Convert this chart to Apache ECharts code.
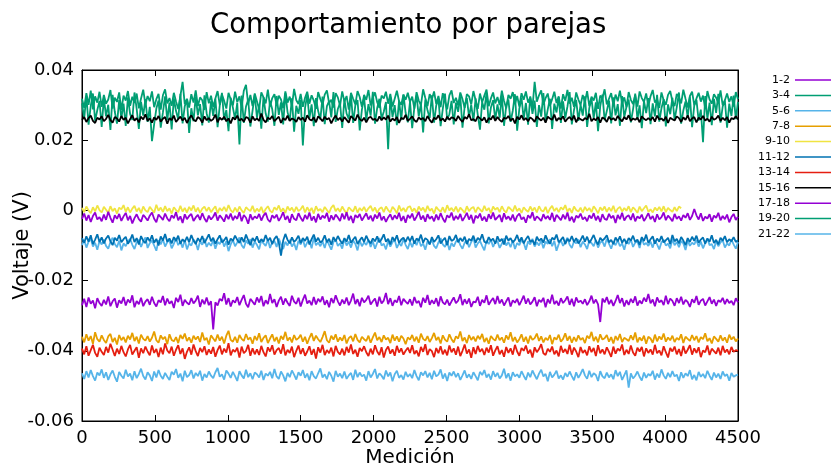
<!DOCTYPE html>
<html>
<head>
<meta charset="utf-8">
<title>Comportamiento por parejas</title>
<script src="https://cdn.jsdelivr.net/npm/echarts@6/dist/echarts.min.js"></script>
<style>
  html, body { margin: 0; padding: 0; background: #fff; }
  #chart { width: 832px; height: 471px; }
</style>
</head>
<body>
<div id="chart"></div>
<script>
// Lecturas de voltaje por pareja, en décimas de mV (1 = 0.0001 V),
// tomadas cada PASO mediciones.
const PASO = 15;
const ESCALA = 1e-4;

const nombres = ['1-2', '3-4', '5-6', '7-8', '9-10', '11-12', '13-14', '15-16', '17-18', '19-20', '21-22'];
const colores = ['#9400d3', '#009e73', '#56b4e9', '#e69f00', '#f0e442', '#0072b2', '#e51e10', '#000000', '#9400d3', '#009e73', '#56b4e9'];

const ticksX = [0, 500, 1000, 1500, 2000, 2500, 3000, 3500, 4000, 4500];
const ticksY = [-0.06, -0.04, -0.02, 0, 0.02, 0.04];

const par1_2 = [
  -270,-252,-275,-248,-266,-257,-279,-250,-264,-272,
  -255,-268,-245,-273,-259,-251,-277,-256,-265,-247,
  -271,-254,-263,-242,-276,-258,-267,-249,-273,-260,
  -253,-269,-246,-264,-274,-256,-262,-244,-270,-251,
  -266,-258,-278,-249,-261,-240,-272,-255,-263,-268,
  -250,-265,-257,-243,-275,-254,-267,-248,-270,-259,
  -339,-262,-271,-252,-258,-236,-268,-250,-274,-256,
  -263,-247,-270,-255,-241,-266,-276,-252,-260,-269,
  -248,-262,-244,-273,-256,-267,-238,-264,-253,-275,
  -257,-246,-269,-251,-263,-272,-243,-260,-266,-249,
  -274,-255,-240,-265,-257,-270,-247,-268,-252,-261,
  -245,-269,-256,-276,-250,-264,-242,-259,-271,-254,
  -266,-248,-270,-257,-237,-267,-253,-273,-249,-262,
  -255,-243,-268,-259,-251,-274,-246,-265,-257,-235,
  -267,-250,-272,-256,-262,-244,-270,-252,-260,-266,
  -253,-271,-247,-264,-258,-276,-249,-263,-241,-269,
  -256,-266,-250,-273,-245,-262,-268,-254,-271,-259,
  -248,-264,-257,-239,-270,-253,-266,-251,-275,-260,
  -262,-246,-272,-255,-263,-242,-269,-258,-250,-267,
  -244,-265,-254,-271,-259,-248,-274,-256,-263,-252,
  -270,-257,-243,-266,-251,-268,-260,-247,-273,-255,
  -261,-249,-276,-253,-265,-240,-267,-258,-271,-250,
  -264,-256,-245,-269,-252,-273,-248,-262,-257,-266,
  -253,-270,-259,-243,-265,-254,-268,-318,-251,-262,
  -247,-267,-255,-272,-258,-241,-264,-250,-274,-256,
  -269,-252,-263,-245,-271,-257,-266,-249,-260,-238,
  -265,-254,-273,-248,-262,-256,-270,-243,-267,-251,
  -258,-272,-250,-264,-246,-268,-255,-261,-275,-253,
  -263,-244,-269,-257,-252,-271,-259,-247,-266,-254,
  -272,-256,-261,-249,-267,-253,-264,-258,-270,-250,
  -262
];

const par3_4 = [
  318,292,334,301,341,288,325,307,338,295,
  329,304,316,343,290,321,309,336,286,327,
  313,340,298,324,306,333,291,319,344,302,
  326,311,339,294,317,332,287,328,345,305,
  320,298,335,310,289,326,366,303,318,293,
  331,307,342,297,322,314,286,337,305,327,
  295,319,340,301,330,312,290,335,316,299,
  338,308,325,292,341,358,303,329,297,333,
  311,288,336,322,305,344,296,320,331,300,
  327,316,291,339,307,324,298,346,314,303,
  332,295,321,338,304,328,313,289,337,317,
  301,330,342,306,315,293,334,322,298,339,
  310,326,287,335,318,302,340,323,295,329,
  315,343,299,321,336,308,292,327,319,338,
  304,332,296,318,341,311,301,330,315,335,
  309,324,290,337,313,300,345,320,297,331,
  316,339,303,326,294,334,311,288,328,342,
  306,321,299,336,317,292,331,325,302,340,
  314,289,333,308,327,344,297,319,336,305,
  323,300,341,312,291,329,318,337,303,326,
  296,334,315,339,307,322,293,366,310,328,
  342,301,320,333,298,317,338,306,325,290,
  331,312,343,304,321,295,336,316,300,329,
  308,340,297,324,313,335,289,327,319,345,
  302,318,334,299,330,311,341,305,322,294,
  337,315,303,328,296,339,320,309,333,298,
  325,343,307,317,292,336,314,301,329,340,
  311,297,332,322,305,344,318,293,326,338,
  300,319,335,310,327,291,340,316,304,331,
  321,306,342,299,314,333,309,325,296,337,
  317
];

const par5_6 = [
  -99,-85,-106,-89,-80,-103,-92,-112,-87,-97,
  -83,-101,-109,-90,-78,-96,-105,-86,-114,-94,
  -102,-88,-81,-98,-110,-91,-84,-104,-89,-77,
  -107,-93,-86,-100,-115,-85,-97,-82,-103,-90,
  -86,-108,-95,-79,-99,-89,-106,-84,-111,-94,
  -100,-83,-91,-113,-87,-98,-80,-104,-92,-101,
  -85,-109,-90,-96,-81,-103,-88,-116,-97,-84,
  -102,-91,-77,-99,-108,-86,-95,-82,-106,-89,
  -98,-111,-85,-94,-101,-83,-107,-90,-87,-104,
  -80,-96,-110,-89,-100,-84,-103,-93,-113,-86,
  -97,-82,-105,-91,-87,-108,-78,-99,-92,-102,
  -88,-107,-84,-98,-112,-90,-83,-101,-94,-109,
  -81,-100,-89,-106,-86,-95,-114,-85,-102,-91,
  -98,-83,-104,-88,-109,-92,-79,-100,-95,-111,
  -87,-103,-90,-84,-107,-93,-101,-82,-98,-110,
  -89,-105,-86,-99,-81,-102,-94,-112,-88,-96,
  -84,-101,-108,-91,-79,-97,-104,-87,-113,-93,
  -103,-89,-82,-99,-109,-92,-85,-105,-90,-78,
  -106,-94,-87,-101,-114,-86,-96,-83,-104,-91,
  -87,-107,-95,-80,-100,-90,-105,-85,-110,-93,
  -99,-84,-92,-112,-88,-97,-81,-103,-91,-100,
  -86,-108,-89,-95,-82,-102,-87,-115,-96,-85,
  -101,-90,-78,-98,-107,-88,-94,-83,-105,-89,
  -97,-110,-86,-93,-102,-84,-106,-91,-88,-103,
  -81,-95,-109,-90,-99,-85,-102,-94,-112,-87,
  -96,-83,-104,-92,-88,-107,-79,-98,-93,-101,
  -89,-106,-85,-97,-111,-91,-84,-100,-95,-108,
  -82,-99,-90,-105,-87,-94,-113,-86,-101,-92,
  -97,-84,-103,-89,-108,-93,-80,-99,-96,-110,
  -88,-102,-91,-85,-106,-94,-100,-83,-97,-109,
  -90
];

const par7_8 = [
  -360,-376,-353,-371,-358,-380,-347,-367,-374,-356,
  -369,-378,-359,-352,-375,-363,-382,-355,-370,-361,
  -376,-357,-368,-349,-372,-360,-379,-354,-366,-371,
  -358,-374,-363,-345,-370,-377,-356,-367,-360,-381,
  -353,-369,-373,-361,-378,-355,-366,-351,-372,-362,
  -377,-357,-368,-359,-375,-348,-370,-363,-382,-356,
  -365,-373,-354,-371,-360,-379,-357,-343,-369,-374,
  -360,-377,-355,-366,-372,-352,-368,-362,-380,-358,
  -370,-350,-375,-363,-356,-378,-365,-353,-373,-361,
  -379,-358,-368,-346,-371,-362,-376,-355,-369,-364,
  -354,-374,-360,-380,-363,-350,-372,-357,-367,-375,
  -361,-344,-370,-377,-357,-368,-353,-374,-362,-371,
  -355,-379,-364,-358,-373,-352,-369,-376,-360,-367,
  -372,-357,-377,-362,-348,-370,-361,-375,-356,-368,
  -363,-378,-354,-371,-359,-374,-357,-365,-381,-362,
  -368,-355,-373,-360,-377,-351,-366,-371,-358,-375,
  -364,-349,-370,-361,-379,-356,-368,-374,-353,-367,
  -376,-359,-365,-345,-372,-362,-378,-355,-369,-360,
  -373,-357,-367,-352,-375,-363,-380,-358,-366,-371,
  -354,-370,-362,-377,-356,-368,-347,-373,-361,-376,
  -367,-353,-374,-360,-379,-357,-369,-364,-351,-372,
  -359,-376,-363,-370,-355,-381,-362,-368,-354,-374,
  -366,-350,-371,-358,-377,-361,-373,-356,-369,-363,
  -378,-357,-365,-346,-372,-360,-376,-353,-368,-364,
  -355,-374,-361,-379,-358,-370,-352,-375,-363,-367,
  -372,-356,-369,-348,-376,-362,-371,-357,-380,-360,
  -365,-377,-354,-373,-359,-368,-351,-374,-362,-370,
  -357,-375,-363,-369,-353,-378,-360,-366,-372,-355,
  -370,-358,-376,-361,-367,-350,-373,-364,-379,-359,
  -366,-374,-356,-371,-362,-377,-354,-368,-360,-373,
  -365
];

const par9_10 = [
  7,-5,11,0,-8,9,-3,14,1,-6,
  10,2,-7,12,-2,6,-9,8,3,15,
  -4,9,-6,5,13,-3,7,-8,11,0,
  -5,10,2,-7,16,-1,8,-4,12,-2,
  6,-9,9,1,-5,13,-3,7,-6,10,
  0,14,-4,8,-7,5,11,-2,9,-5,
  4,12,-8,7,-1,10,-3,15,1,-6,
  8,-4,11,0,-7,9,3,-2,13,-5,
  5,-3,10,-8,4,12,-1,-6,9,1,
  14,-4,6,-7,11,0,8,-5,10,-2,
  3,13,-6,9,-3,7,-9,12,-1,4,
  -5,10,1,-7,8,15,-2,6,-4,11,
  0,-8,9,2,-3,12,-6,7,-1,10,
  -4,6,13,-2,8,-7,5,9,-5,11,
  1,-6,10,3,-8,14,-2,7,-4,9,
  12,-3,6,-7,11,0,8,-5,13,-1,
  5,-9,10,2,-4,9,-6,15,0,7,
  -3,11,-5,8,1,-7,12,-2,6,10,
  -6,9,3,-4,13,-1,7,-8,11,2,
  8,-5,12,0,-6,10,4,-3,14,-2,
  6,-7,9,1,-4,11,-1,8,-6,12,
  0,-3,10,-8,5,13,-2,7,-5,9,
  2,15,-4,6,-7,11,1,-3,8,-6,
  10,-1,7,-5,12,3,-8,9,0,11,
  -4,8,-2,13,-6,5,10,-3,7,-1,
  12,-5,9,2,-7,11,-2,6,14,-4,
  3,-6,8,0,10,-3,12,-5,7,1,
  -4,9,-2,11,6
];

const par11_12 = [
  -79,-92,-74,-89,-71,-96,-83,-68,-90,-77,
  -94,-80,-72,-88,-99,-78,-86,-70,-91,-82,
  -75,-95,-85,-69,-90,-79,-97,-73,-87,-93,
  -77,-88,-71,-92,-81,-100,-74,-86,-67,-89,
  -80,-94,-76,-87,-72,-95,-82,-90,-75,-91,
  -70,-86,-96,-79,-89,-73,-93,-81,-68,-88,
  -78,-95,-82,-71,-91,-85,-76,-98,-80,-87,
  -72,-84,-93,-77,-90,-69,-85,-99,-79,-88,
  -74,-92,-82,-89,-70,-87,-78,-96,-81,-73,
  -91,-129,-86,-67,-84,-94,-77,-90,-83,-72,
  -93,-79,-87,-75,-97,-82,-69,-89,-78,-92,
  -86,-71,-91,-81,-98,-76,-88,-73,-85,-95,
  -79,-89,-70,-92,-83,-75,-96,-85,-77,-90,
  -72,-86,-94,-80,-88,-74,-91,-82,-68,-89,
  -81,-97,-76,-87,-71,-93,-83,-78,-90,-75,
  -88,-73,-95,-80,-86,-69,-92,-79,-84,-97,
  -76,-90,-82,-71,-94,-85,-78,-99,-73,-87,
  -83,-70,-91,-79,-88,-75,-96,-81,-86,-72,
  -92,-78,-85,-68,-89,-93,-76,-87,-80,-95,
  -74,-88,-81,-97,-72,-86,-79,-91,-84,-70,
  -90,-77,-94,-82,-73,-89,-85,-98,-75,-87,
  -80,-92,-71,-86,-95,-78,-83,-69,-91,-84,
  -76,-96,-81,-88,-73,-90,-79,-94,-85,-72,
  -89,-75,-93,-82,-70,-87,-97,-78,-86,-80,
  -71,-91,-84,-96,-77,-88,-74,-92,-81,-95,
  -79,-86,-72,-90,-83,-98,-76,-87,-69,-93,
  -82,-74,-95,-80,-89,-73,-91,-85,-78,-96,
  -70,-88,-81,-94,-76,-86,-99,-79,-90,-75,
  -87,-72,-92,-83,-77,-95,-80,-89,-71,-93,
  -84,-97,-78,-86,-73,-91,-82,-88,-76,-90,
  -85
];

const par13_14 = [
  -394,-410,-387,-414,-398,-383,-406,-417,-391,-403,
  -412,-389,-405,-380,-397,-415,-394,-409,-386,-404,
  -416,-396,-383,-411,-400,-390,-420,-393,-407,-388,
  -402,-413,-385,-406,-395,-418,-391,-410,-379,-399,
  -407,-388,-414,-397,-384,-409,-393,-423,-403,-390,
  -411,-382,-401,-415,-392,-404,-387,-412,-396,-408,
  -389,-417,-398,-385,-410,-394,-405,-378,-413,-397,
  -403,-391,-419,-388,-407,-400,-383,-414,-393,-410,
  -396,-412,-386,-404,-416,-390,-402,-384,-411,-398,
  -392,-408,-381,-413,-397,-406,-388,-418,-400,-385,
  -409,-393,-414,-402,-387,-411,-395,-422,-390,-405,
  -383,-412,-398,-407,-391,-416,-386,-403,-410,-394,
  -413,-389,-405,-382,-409,-397,-417,-392,-401,-387,
  -404,-415,-394,-410,-384,-402,-412,-390,-419,-398,
  -388,-408,-396,-414,-386,-405,-393,-411,-400,-391,
  -406,-384,-409,-399,-416,-389,-403,-381,-412,-395,
  -401,-418,-392,-407,-387,-410,-397,-413,-385,-404,
  -393,-411,-388,-415,-400,-382,-408,-396,-420,-390,
  -409,-386,-403,-394,-412,-391,-405,-384,-414,-399,
  -387,-410,-398,-417,-389,-406,-393,-411,-383,-402,
  -414,-392,-400,-385,-408,-397,-419,-390,-404,-395,
  -381,-407,-412,-394,-403,-388,-410,-399,-416,-386,
  -405,-395,-409,-383,-411,-391,-402,-418,-389,-406,
  -398,-413,-387,-404,-392,-415,-384,-407,-396,-410,
  -390,-403,-417,-388,-408,-394,-400,-382,-412,-397,
  -409,-385,-405,-414,-391,-402,-389,-416,-393,-406,
  -396,-411,-383,-407,-399,-413,-387,-404,-419,-392,
  -402,-388,-410,-395,-415,-386,-408,-397,-384,-411,
  -393,-406,-390,-418,-399,-404,-385,-412,-394,-401,
  -408,-391,-413,-386,-405,-396,-410,-389,-403,-398,
  -400
];

const par15_16 = [
  258,266,252,263,270,255,249,264,259,268,
  254,261,272,257,250,266,262,253,269,258,
  264,248,260,271,256,263,251,267,259,274,
  255,262,250,265,258,269,253,261,266,247,
  263,257,270,252,260,267,256,264,249,262,
  271,258,254,266,261,250,268,257,263,255,
  260,273,251,264,258,267,254,262,248,265,
  259,270,256,261,253,266,263,250,268,257,
  262,255,276,258,251,264,260,269,254,261,
  267,249,263,257,270,255,262,259,252,266,
  258,264,253,271,260,256,265,251,268,262,
  254,267,259,263,248,261,270,257,264,253,
  266,258,250,269,262,256,273,260,255,264,
  251,263,267,258,261,254,268,257,265,259,
  270,253,262,256,266,249,264,260,272,255,
  261,268,257,252,265,259,263,254,269,258,
  250,264,260,271,256,262,253,267,258,265,
  263,255,269,259,252,266,261,274,257,260,
  254,268,262,256,265,250,263,259,270,255,
  266,258,252,264,261,269,256,262,248,267,
  259,271,257,263,254,265,260,252,268,261,
  256,264,250,267,262,258,273,255,263,259,
  268,253,261,266,257,270,251,264,260,256,
  263,259,275,254,262,257,266,250,265,261,
  252,267,258,263,256,269,260,254,266,259,
  271,255,262,258,264,251,268,261,257,263,
  257,266,253,270,259,262,255,267,249,264,
  260,256,268,263,252,265,258,271,254,262,
  266,251,264,259,269,256,261,253,267,258,
  262,270,255,264,257,266,250,263,260,268,
  259
];

const par17_18 = [
  -24,-9,-29,-13,-33,-16,-6,-26,-19,-31,
  -12,-27,-4,-21,-35,-14,-24,-10,-30,-17,
  -7,-28,-16,-37,-22,-11,-25,-32,-13,-20,
  -29,-15,-6,-24,-34,-12,-19,-27,-9,-23,
  -31,-14,-22,-5,-28,-17,-36,-11,-25,-16,
  -10,-30,-20,-13,-27,-8,-23,-33,-15,-26,
  -18,-6,-29,-14,-22,-32,-12,-25,-9,-28,
  -16,-24,-5,-31,-13,-21,-38,-11,-27,-17,
  -23,-10,-29,-15,-7,-26,-33,-14,-22,-12,
  -30,-19,-5,-27,-16,-35,-11,-24,-28,-8,
  -21,-31,-13,-25,-6,-29,-17,-34,-10,-26,
  -15,-22,-7,-32,-14,-27,-12,-20,-30,-9,
  -25,-5,-28,-16,-36,-13,-21,-10,-29,-18,
  -8,-26,-15,-31,-12,-23,-6,-28,-17,-33,
  -20,-11,-27,-14,-24,-7,-30,-16,-35,-13,
  -22,-9,-29,-18,-4,-26,-15,-32,-11,-24,
  -17,-31,-12,-27,-8,-23,-34,-14,-21,-6,
  -28,-16,-25,-10,-30,-19,-7,-26,-13,-37,
  -15,-22,-9,-29,-18,-32,-11,-24,-6,-27,
  -20,-13,-33,-8,-25,-17,-28,-12,-31,-16,
  -9,-26,-19,-35,-14,-22,-5,-29,-17,-23,
  -30,-11,-24,-16,-27,-7,-32,-13,-20,-28,
  -12,-25,-6,-30,-18,-34,-15,-21,-9,-26,
  -19,-31,-14,-23,-8,-28,-16,-33,-11,-24,
  -27,-10,-22,-15,-36,-13,-25,-7,-29,-18,
  -14,-27,-9,-31,-17,-23,-12,-30,-20,-8,
  -25,-16,-33,-11,-26,-19,-6,-28,-15,-22,
  -31,-10,-24,-17,-29,-13,-21,-8,-27,-16,
  4,-14,-26,-8,-30,-18,-23,-11,-32,-15,
  -21,-7,-28,-16,-25,-12,-34,-19,-10,-27,
  -18
];

const par19_20 = [
  305,262,326,244,298,333,255,286,312,238,
  320,268,301,229,329,281,247,314,263,304,
  241,322,275,258,336,289,232,309,270,317,
  252,295,197,246,290,313,236,279,325,257,
  307,231,319,283,260,332,248,297,315,221,
  291,254,324,271,303,242,328,277,250,311,
  269,318,237,299,335,258,286,226,321,293,
  261,306,188,327,249,296,316,239,284,330,
  264,300,233,323,276,253,312,288,241,326,
  272,308,245,334,280,256,319,224,298,275,
  315,185,292,329,262,302,240,320,283,259,
  324,246,297,311,265,337,252,289,306,235,
  317,276,260,331,249,299,314,228,287,322,
  256,303,270,338,247,292,318,261,281,309,
  174,323,266,300,243,313,257,330,278,251,
  310,234,294,327,268,305,222,316,285,263,
  328,250,299,318,240,289,333,259,274,312,
  245,307,281,325,236,296,320,266,301,254,
  319,272,230,309,287,335,248,293,314,258,
  302,264,327,241,298,316,252,284,331,227,
  290,321,260,306,244,325,275,313,238,300,
  267,334,253,288,318,232,304,279,323,249,
  311,262,296,337,245,286,315,255,301,270,
  325,238,292,319,263,308,226,297,330,257,
  283,313,248,322,271,303,241,326,266,295,
  316,251,288,333,259,299,234,312,277,320,
  246,305,268,329,253,291,317,239,302,274,
  321,258,294,336,247,285,310,264,324,237,
  299,315,256,287,194,326,261,307,243,318,
  278,332,250,296,313,236,304,269,327,260,
  309
];

const par21_22 = [
  -464,-480,-458,-476,-455,-472,-485,-462,-470,-453,
  -477,-461,-483,-467,-456,-474,-488,-460,-471,-479,
  -454,-473,-465,-484,-458,-478,-466,-451,-472,-482,
  -461,-470,-486,-459,-476,-455,-471,-480,-463,-474,
  -483,-460,-468,-452,-477,-465,-487,-457,-475,-469,
  -455,-479,-463,-472,-457,-485,-466,-476,-459,-471,
  -478,-461,-449,-474,-467,-482,-456,-465,-477,-460,
  -472,-486,-458,-470,-479,-454,-475,-464,-481,-462,
  -467,-476,-457,-483,-465,-471,-460,-478,-452,-473,
  -480,-459,-470,-487,-463,-475,-456,-468,-482,-461,
  -471,-455,-477,-465,-484,-458,-472,-479,-464,-450,
  -476,-467,-481,-460,-471,-488,-457,-474,-465,-478,
  -459,-480,-470,-463,-483,-454,-475,-462,-473,-468,
  -485,-458,-476,-466,-452,-479,-464,-471,-481,-456,
  -473,-462,-487,-467,-457,-477,-469,-482,-460,-474,
  -466,-478,-455,-472,-484,-461,-470,-458,-476,-463,
  -481,-457,-473,-468,-453,-479,-465,-486,-462,-471,
  -459,-475,-464,-483,-470,-456,-477,-467,-480,-461,
  -472,-484,-460,-469,-455,-476,-466,-482,-458,-474,
  -463,-479,-470,-451,-478,-464,-485,-461,-473,-467,
  -477,-458,-471,-483,-462,-475,-456,-469,-481,-465,
  -454,-473,-466,-487,-460,-476,-468,-457,-479,-470,
  -482,-463,-474,-459,-472,-484,-461,-477,-466,-452,
  -470,-480,-457,-475,-464,-469,-486,-458,-473,-478,
  -462,-476,-467,-481,-455,-472,-460,-483,-469,-456,
  -505,-464,-479,-471,-459,-474,-485,-462,-477,-466,
  -471,-457,-482,-465,-476,-453,-470,-480,-463,-475,
  -458,-473,-468,-486,-461,-477,-464,-472,-455,-481,
  -469,-484,-460,-474,-466,-478,-457,-471,-483,-462,
  -476,-465,-480,-459,-472,-467,-485,-463,-474,-470,
  -468
];

const lecturas = [par1_2, par3_4, par5_6, par7_8, par9_10, par11_12,
                  par13_14, par15_16, par17_18, par19_20, par21_22];

const FUENTE = 'DejaVu Sans';

// pares [medición, voltaje] para cada pareja
function puntos(valores) {
  return valores.map((v, i) => [i * PASO, v * ESCALA]);
}

const series = nombres.map((nombre, k) => ({
  name: nombre,
  type: 'line',
  data: puntos(lecturas[k]),
  symbol: 'none',
  showSymbol: false,
  sampling: null,
  z: nombre === '15-16' ? 4 : 2,
  lineStyle: { width: 1.8, color: colores[k] },
  itemStyle: { color: colores[k] },
  emphasis: { disabled: true }
}));

const ejeX = {
  type: 'value',
  min: ticksX[0],
  max: ticksX[ticksX.length - 1],
  interval: ticksX[1] - ticksX[0],
  splitLine: { show: false },
  axisLine: { show: true, onZero: false, lineStyle: { color: '#000', width: 1 } },
  axisTick: { show: true, inside: true, length: 6, lineStyle: { color: '#000' } }
};
const ejeY = {
  type: 'value',
  min: ticksY[0],
  max: ticksY[ticksY.length - 1],
  interval: 0.02,
  splitLine: { show: false },
  axisLine: { show: true, onZero: false, lineStyle: { color: '#000', width: 1 } },
  axisTick: { show: true, inside: true, length: 6, lineStyle: { color: '#000' } }
};

const chart = echarts.init(document.getElementById('chart'), null, { renderer: 'canvas' });
chart.setOption({
  animation: false,
  backgroundColor: '#fff',
  title: {
    text: 'Comportamiento por parejas',
    left: 210,
    top: 12,
    padding: 0,
    textStyle: { fontFamily: FUENTE, fontSize: 27.5, fontWeight: 'normal', color: '#000' }
  },
  grid: { left: 82, right: 94, top: 70, bottom: 50, containLabel: false,
          outerBoundsMode: 'none',
          show: true, borderColor: '#000', borderWidth: 1 },
  legend: {
    data: nombres.map(n => ({ name: n, icon: 'rect' })),
    orient: 'vertical',
    right: 1,
    top: 74,
    padding: 0,
    align: 'right',
    itemWidth: 36,
    itemHeight: 1.5,
    itemGap: 3.4,
    selectedMode: false,
    textStyle: { fontFamily: FUENTE, fontSize: 11, color: '#000', lineHeight: 12 }
  },
  xAxis: [
    Object.assign({}, ejeX, {
      position: 'bottom',
      name: 'Medición',
      nameLocation: 'middle',
      nameGap: 27,
      nameMoveOverlap: false,
      nameTextStyle: { fontFamily: FUENTE, fontSize: 20, color: '#000' },
      axisLabel: { show: true, margin: 8, fontFamily: FUENTE, fontSize: 18, color: '#000',
                   formatter: v => String(v) }
    }),
    Object.assign({}, ejeX, { position: 'top', axisLabel: { show: false } })
  ],
  yAxis: [
    Object.assign({}, ejeY, {
      position: 'left',
      name: 'Voltaje (V)',
      nameLocation: 'middle',
      nameRotate: 90,
      nameGap: 49,
      nameMoveOverlap: false,
      nameTextStyle: { fontFamily: FUENTE, fontSize: 21, color: '#000' },
      axisLabel: {
        show: true, margin: 8, fontFamily: FUENTE, fontSize: 18, color: '#000',
        formatter: v => (Math.abs(v) < 1e-9 ? '0' : v.toFixed(2))
      }
    }),
    Object.assign({}, ejeY, { position: 'right', axisLabel: { show: false } })
  ],
  series: series
});
</script>
</body>
</html>
